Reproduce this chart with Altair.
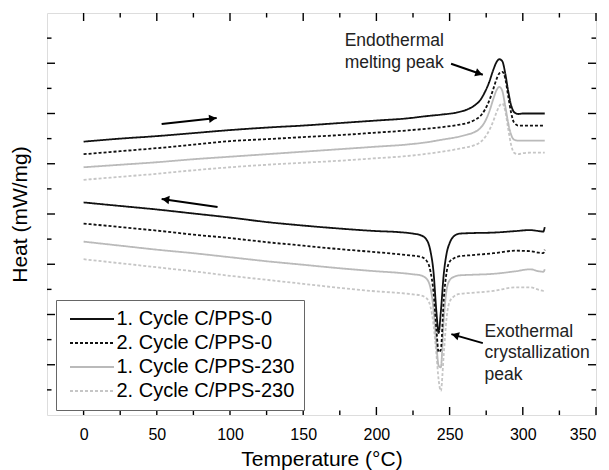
import altair as alt
import pandas as pd
import numpy as np

# ---------------- data ----------------
series_names = ["1. Cycle C/PPS-0", "2. Cycle C/PPS-0", "1. Cycle C/PPS-230", "2. Cycle C/PPS-230"]

heat_T = [0, 25, 50, 75, 100, 125, 150, 175, 200, 220, 235, 245, 255, 262, 267, 271, 274, 277,
          280, 282, 284, 286, 288, 290, 292, 294, 297, 300, 305, 310, 315]
heat_1 = [5.44, 5.50, 5.55, 5.61, 5.67, 5.72, 5.76, 5.81, 5.86, 5.90, 5.95, 5.98, 6.02, 6.08, 6.16, 6.27, 6.42, 6.62,
          6.88, 7.02, 7.08, 7.04, 6.80, 6.45, 6.17, 6.03, 5.99, 6.00, 6.00, 6.00, 6.00]
heat_2 = [5.19, 5.25, 5.31, 5.38, 5.45, 5.49, 5.53, 5.57, 5.62, 5.66, 5.70, 5.73, 5.77, 5.81, 5.87, 5.95, 6.07, 6.25,
          6.50, 6.68, 6.80, 6.83, 6.70, 6.35, 6.02, 5.82, 5.76, 5.76, 5.76, 5.76, 5.76]
heat_3 = [4.93, 4.98, 5.03, 5.09, 5.14, 5.19, 5.24, 5.29, 5.34, 5.38, 5.43, 5.48, 5.53, 5.58, 5.63, 5.71, 5.83, 6.03,
          6.30, 6.46, 6.53, 6.45, 6.15, 5.82, 5.58, 5.48, 5.46, 5.46, 5.46, 5.46, 5.46]
heat_4 = [4.68, 4.74, 4.80, 4.87, 4.93, 4.98, 5.02, 5.06, 5.11, 5.15, 5.20, 5.24, 5.29, 5.33, 5.37, 5.43, 5.52, 5.66,
          5.86, 6.02, 6.15, 6.20, 6.05, 5.70, 5.38, 5.22, 5.19, 5.21, 5.22, 5.22, 5.22]

cool_T = [0, 25, 50, 75, 100, 125, 150, 175, 200, 215, 225, 230, 234, 237, 239, 241, 242.5, 244,
          246, 248, 250, 253, 257, 265, 280, 295, 305, 311, 314, 315]
cool_1 = [4.23, 4.16, 4.09, 4.01, 3.93, 3.84, 3.77, 3.71, 3.66, 3.64, 3.61, 3.58, 3.50, 3.25, 2.85, 2.05, 1.63, 2.05,
          2.80, 3.22, 3.42, 3.56, 3.61, 3.62, 3.63, 3.66, 3.68, 3.66, 3.65, 3.74]
cool_2 = [3.81, 3.74, 3.67, 3.59, 3.52, 3.44, 3.37, 3.30, 3.24, 3.20, 3.17, 3.15, 3.08, 2.85, 2.45, 1.70, 1.25, 1.30,
          2.30, 2.85, 3.05, 3.12, 3.16, 3.18, 3.22, 3.27, 3.26, 3.23, 3.22, 3.29]
cool_3 = [3.45, 3.37, 3.29, 3.22, 3.14, 3.06, 2.99, 2.92, 2.86, 2.83, 2.80, 2.78, 2.72, 2.52, 2.10, 1.40, 0.98, 0.95,
          1.90, 2.50, 2.68, 2.75, 2.78, 2.79, 2.81, 2.86, 2.90, 2.86, 2.85, 2.90]
cool_4 = [3.10, 3.02, 2.94, 2.86, 2.77, 2.69, 2.61, 2.53, 2.46, 2.43, 2.40, 2.38, 2.33, 2.15, 1.80, 1.20, 0.70, 0.48,
          1.20, 1.95, 2.25, 2.36, 2.41, 2.43, 2.47, 2.54, 2.54, 2.49, 2.47, 2.47]

x_major = [0, 50, 100, 150, 200, 250, 300, 350]
x_minor = [25, 75, 125, 175, 225, 275, 325]
y_major = [1, 2, 3, 4, 5, 6, 7]
y_minor = [0.5, 1.5, 2.5, 3.5, 4.5, 5.5, 6.5, 7.5]

# arrows: start (x, y) -> tip (x2, y2)
arrow_x = [53.3, 91.5, 251.0, 272.7]
arrow_y = [5.79, 4.14, 6.99, 1.43]
arrow_x2 = [90.9, 53.3, 272.7, 251.2]
arrow_y2 = [5.91, 4.30, 6.77, 1.61]

note_text = ["Endothermal\nmelting peak", "Exothermal\ncrystallization\npeak"]
note_x = [178.3, 273.9]
note_y = [7.44, 1.66]

# ---------------- styles ----------------
W, H = 549, 402
X_DOMAIN = [-25, 350]
Y_DOMAIN = [0, 8]
series_colors = ["#111111", "#111111", "#bababa", "#c6c6c6"]
series_dash = [[1, 0], [3, 2], [1, 0], [3, 2]]
FONT = "Liberation Sans"

heat_vals = [heat_1, heat_2, heat_3, heat_4]
cool_vals = [cool_1, cool_2, cool_3, cool_4]
frames = []
for i in [3, 2, 1, 0]:  # draw grey first so black sits on top
    frames.append(pd.DataFrame({"T": heat_T, "Heat": heat_vals[i], "series": series_names[i], "segment": "heating"}))
    frames.append(pd.DataFrame({"T": cool_T, "Heat": cool_vals[i], "series": series_names[i], "segment": "cooling"}))
df = pd.concat(frames, ignore_index=True)
df["curve"] = df["series"] + " " + df["segment"]

xs = alt.Scale(domain=X_DOMAIN, nice=False, zero=False)
ys = alt.Scale(domain=Y_DOMAIN, nice=False, zero=False)

x_axis = alt.Axis(
    title="Temperature (°C)", values=x_major, ticks=False, domain=False, grid=False,
    labelFontSize=16, labelPadding=11, labelColor="black", labelFont=FONT,
    titleFontSize=21, titleFont=FONT, titleFontWeight="normal", titleColor="black", titlePadding=6)
y_axis = alt.Axis(
    title="Heat (mW/mg)", labels=False, ticks=False, domain=False, grid=False,
    titleFontSize=21, titleFont=FONT, titleFontWeight="normal", titleColor="black", titlePadding=17)

legend = alt.Legend(
    title=None, orient="none", legendX=9, legendY=287,
    symbolType="M-0.833,0L6.5,0", symbolSize=144, symbolStrokeWidth=2,
    labelFontSize=20, labelFont=FONT, labelColor="black", labelOffset=31.5, labelLimit=400,
    rowPadding=4, padding=9, strokeColor="#666666", fillColor="white", cornerRadius=0,
)

lines = alt.Chart(df).mark_line(interpolate="monotone", strokeWidth=1.8).encode(
    x=alt.X("T:Q", scale=xs, axis=x_axis),
    y=alt.Y("Heat:Q", scale=ys, axis=y_axis),
    color=alt.Color("series:N", scale=alt.Scale(domain=series_names, range=series_colors), legend=legend),
    strokeDash=alt.StrokeDash("series:N", scale=alt.Scale(domain=series_names, range=series_dash), legend=legend),
    detail="curve:N",
)

# inward ticks on all four sides
def xticks(vals, length):
    d = pd.DataFrame({"T": vals})
    bottom = alt.Chart(d).mark_rule(color="black", strokeWidth=1.4).encode(
        x=alt.X("T:Q", scale=xs, axis=x_axis), y=alt.value(H), y2=alt.value(H - length))
    top = alt.Chart(d).mark_rule(color="black", strokeWidth=1.4).encode(
        x=alt.X("T:Q", scale=xs, axis=x_axis), y=alt.value(0), y2=alt.value(length))
    return [bottom, top]

def yticks(vals, length):
    d = pd.DataFrame({"Heat": vals})
    left = alt.Chart(d).mark_rule(color="black", strokeWidth=1.4).encode(
        y=alt.Y("Heat:Q", scale=ys, axis=y_axis), x=alt.value(0), x2=alt.value(length))
    right = alt.Chart(d).mark_rule(color="black", strokeWidth=1.4).encode(
        y=alt.Y("Heat:Q", scale=ys, axis=y_axis), x=alt.value(W), x2=alt.value(W - length))
    return [left, right]

ticks = xticks(x_major, 8) + xticks(x_minor, 4.5) + yticks(y_major, 8) + yticks(y_minor, 4.5)

# arrows
px_x = W / (X_DOMAIN[1] - X_DOMAIN[0])
px_y = H / (Y_DOMAIN[1] - Y_DOMAIN[0])
ax = np.array(arrow_x); ay = np.array(arrow_y); ax2 = np.array(arrow_x2); ay2 = np.array(arrow_y2)
dxp = (ax2 - ax) * px_x
dyp = -(ay2 - ay) * px_y
ang = (np.degrees(np.arctan2(dyp, dxp)) + 360) % 360
ln = np.hypot(dxp, dyp)
back = 4.0
hx = ax2 - (dxp / ln * back) / px_x
hy = ay2 + (dyp / ln * back) / px_y
arrows_df = pd.DataFrame({"T": ax, "Heat": ay, "T2": ax2, "Heat2": ay2, "hx": hx, "hy": hy, "angle": ang})

arrow_lines = alt.Chart(arrows_df).mark_rule(color="black", strokeWidth=2).encode(
    x=alt.X("T:Q", scale=xs, axis=x_axis), y=alt.Y("Heat:Q", scale=ys, axis=y_axis),
    x2="T2:Q", y2="Heat2:Q")
arrow_heads = alt.Chart(arrows_df).mark_point(shape="triangle-right", filled=True, color="black",
                                               size=70, opacity=1).encode(
    x=alt.X("hx:Q", scale=xs, axis=x_axis), y=alt.Y("hy:Q", scale=ys, axis=y_axis),
    angle=alt.Angle("angle:Q", scale=None))

notes = alt.Chart(pd.DataFrame({"T": note_x, "Heat": note_y, "text": note_text})).mark_text(
    align="left", baseline="middle", fontSize=17.5, font=FONT, color="#222222", lineBreak="\n", lineHeight=21.5
).encode(x=alt.X("T:Q", scale=xs, axis=x_axis), y=alt.Y("Heat:Q", scale=ys, axis=y_axis), text="text:N")

chart = alt.layer(lines, *ticks, arrow_lines, arrow_heads, notes).properties(
    width=W, height=H,
    autosize=alt.AutoSizeParams(type="none"),
    padding={"left": 39, "top": 5, "right": 5, "bottom": 57},
).configure_view(stroke="black", strokeWidth=1.5).configure(font=FONT)

chart.save("out.html", embed_options={"renderer": "svg", "actions": False})
